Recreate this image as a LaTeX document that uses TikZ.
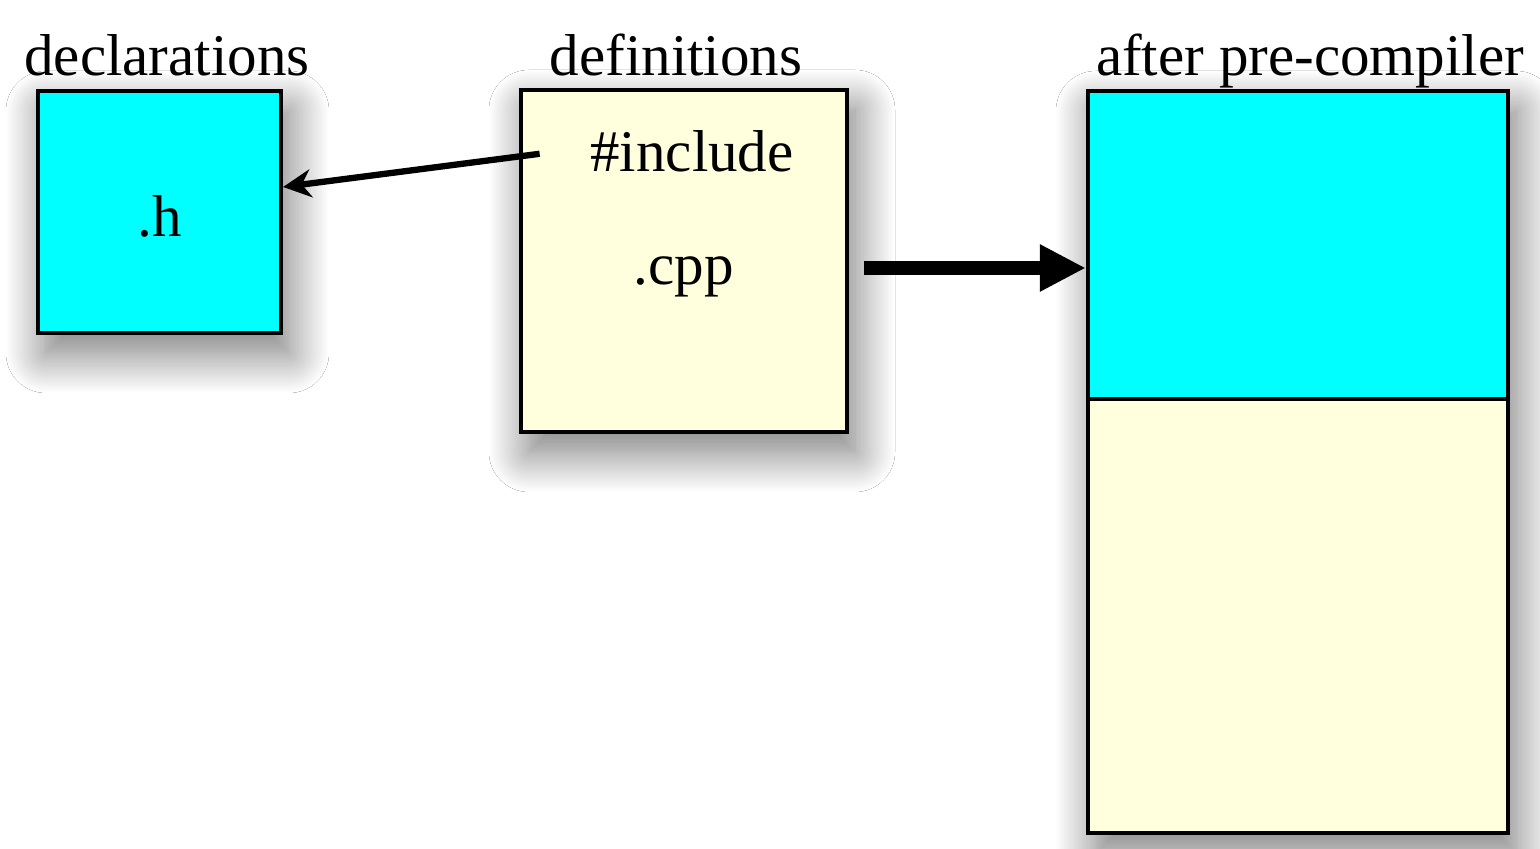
\documentclass[tikz,border=0pt]{standalone}
\usepackage{fontspec}
\setmainfont{Liberation Serif}
\usepackage{xcolor}
\usepackage{tikz}
\usetikzlibrary{arrows.meta, positioning, shadows.blur, calc}

\definecolor{hcyan}{RGB}{0,255,255}
\definecolor{cppyellow}{RGB}{255,255,221}

\begin{document}
\begin{tikzpicture}[
    file/.style={rectangle, draw=black, line width=1.2pt, inner sep=0pt, font=\fontsize{16.8}{20}\selectfont},
    shade/.style={blur shadow={shadow xshift=0.08cm, shadow yshift=-0.2cm, shadow blur radius=0.4cm,
        shadow blur steps=30, shadow opacity=55}},
    lbl/.style={anchor=base, inner sep=0pt, font=\fontsize{16.8}{20}\selectfont},
    arr/.style={-{Stealth[length=2.8mm, width=2.8mm]}, line width=1.8pt},
    bigarr/.style={-{Triangle[length=4.6mm, width=4.4mm]}, line width=4pt}
]
\fill[white] (0,0) rectangle (15.40,8.49);
\useasboundingbox (0,0) rectangle (15.40,8.49);

\node[file, shade, fill=hcyan, minimum width=2.43cm, minimum height=2.42cm] (hbox) at (1.595,6.37) {};
\node[file, shade, fill=cppyellow, minimum width=3.26cm, minimum height=3.42cm] (cpp) at (6.84,5.88) {};
% after pre-compiler: one column, header part on top
\node[file, shade, fill=cppyellow, minimum width=4.20cm, minimum height=7.42cm] (body) at (12.98,3.87) {};
\node[file, fill=hcyan, minimum width=4.20cm, minimum height=3.08cm, below=0pt of body.north] (head) {};

\node[lbl] (decl) at (1.67,7.73) {declarations};
\node[lbl] (defs) at (6.76,7.73) {definitions};
\node[lbl] (after) at (13.10,7.73) {after pre-compiler};

\node[lbl] (hext) at (1.60,6.12) {.h};
\node[lbl] (incl) at (6.92,6.77) {\#include};
\node[lbl] (ext) at (6.84,5.64) {.cpp};

\draw[arr] ([xshift=-0.50cm, yshift=-0.02cm]incl.west) -- ([yshift=0.25cm]hbox.east);
\draw[bigarr] ([xshift=0.15cm, yshift=-0.07cm]cpp.east) -- ([yshift=-0.07cm]cpp.east -| head.west);
\end{tikzpicture}
\end{document}
